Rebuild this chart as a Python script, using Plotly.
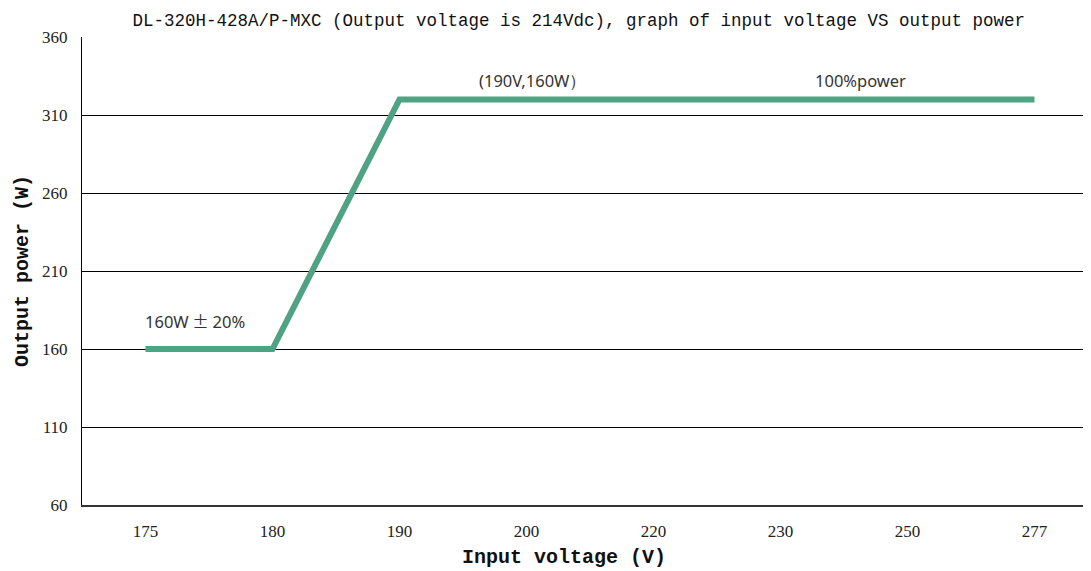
import plotly.graph_objects as go

categories = ["175", "180", "190", "200", "220", "230", "250", "277"]
power = [160, 160, 320, 320, 320, 320, 320, 320]
y_ticks = [60, 110, 160, 210, 260, 310, 360]

title = "DL-320H-428A/P-MXC (Output voltage is 214Vdc), graph of input voltage VS output power"

fig = go.Figure()
fig.add_trace(go.Scatter(
    x=categories, y=power, mode="lines",
    line=dict(color="#4FA284", width=6),
    hoverinfo="skip", showlegend=False,
))

ann_font = dict(family="Noto Sans, Lato, sans-serif", size=16.5, color="#333333")
fig.add_annotation(x=0, y=160, xref="x", yref="y",
                   text="160W<span style='font-family:Noto Sans CJK SC'> ± </span>20%",
                   showarrow=False, font=ann_font,
                   xanchor="left", yanchor="middle", xshift=-3, yshift=28)
fig.add_annotation(x=3, y=320, xref="x", yref="y", text="(190V,160W）", showarrow=False, font=ann_font,
                   xanchor="left", yanchor="middle", xshift=-49, yshift=19)
fig.add_annotation(x=5, y=320, xref="x", yref="y", text="100%power", showarrow=False, font=ann_font,
                   xanchor="left", yanchor="middle", xshift=33, yshift=19)

axis_title_font = dict(family="Liberation Mono, monospace", size=20, color="#111111")
fig.add_annotation(x=0.4777, y=0, xref="paper", yref="paper", text="<b>Input voltage (V)</b>",
                   showarrow=False, font=axis_title_font, xanchor="center", yanchor="middle", yshift=-52)
fig.add_annotation(x=0, y=0.5, xref="paper", yref="paper", text="<b>Output power (W)</b>",
                   showarrow=False, font=axis_title_font, textangle=-90,
                   xanchor="center", yanchor="middle", xshift=-60)

fig.update_layout(
    width=1083, height=563,
    margin=dict(l=74, r=0, t=29, b=66, autoexpand=False),
    paper_bgcolor="white", plot_bgcolor="white",
    title=dict(text=title, x=0.527, xanchor="center", y=0.9785, yanchor="middle",
               font=dict(family="Liberation Mono, monospace", size=17.5, color="#111111")),
    xaxis=dict(
        type="category", categoryorder="array", categoryarray=categories,
        range=[-0.5, 7.445], automargin=False,
        showgrid=False, showline=True, linecolor="#333333", linewidth=2,
        ticks="", ticklabelstandoff=10,
        tickfont=dict(family="Liberation Serif, serif", size=17, color="#222222"),
    ),
    yaxis=dict(
        range=[60, 360], tickvals=y_ticks, automargin=False,
        showgrid=True, gridcolor="#000000", gridwidth=1,
        showline=True, linecolor="#000000", linewidth=1,
        zeroline=False, ticks="", ticklabelstandoff=10,
        tickfont=dict(family="Liberation Serif, serif", size=17, color="#222222"),
    ),
)

fig.write_html("out.html")
